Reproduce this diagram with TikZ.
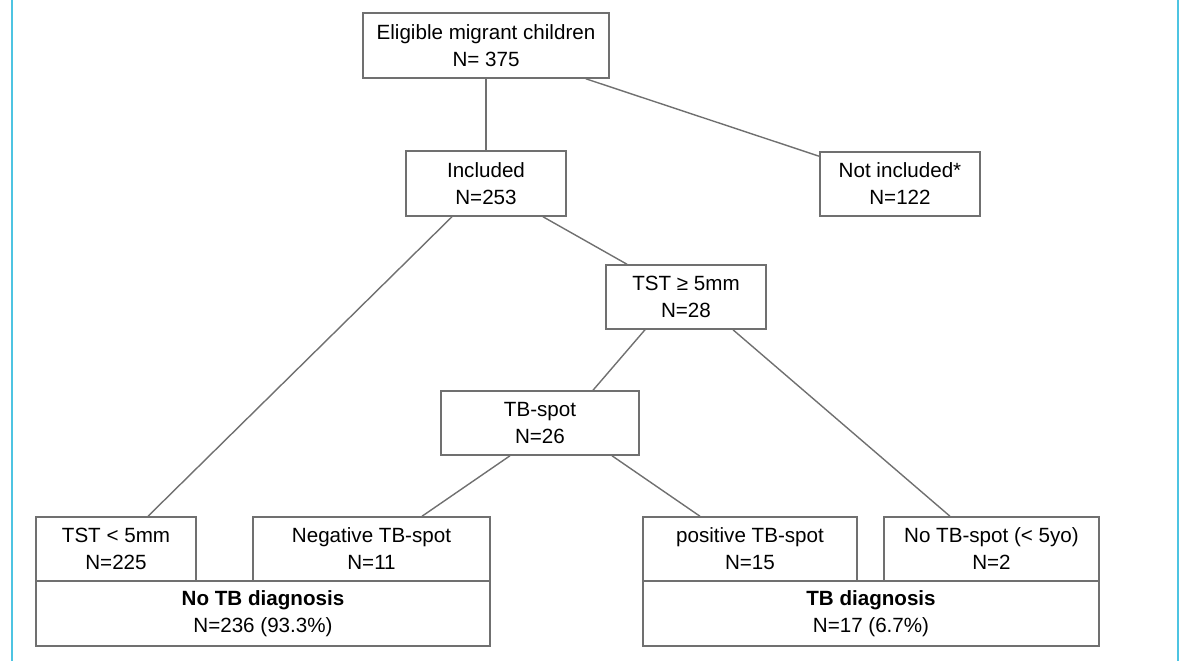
\documentclass[tikz,border=0pt]{standalone}
\usepackage{fontspec}
\setmainfont{Liberation Sans}
\usepackage{tikz}
\usetikzlibrary{calc,positioning}
\definecolor{flowGray}{RGB}{112,112,112}
\definecolor{frameCyan}{RGB}{77,196,226}
\newcommand{\flowfont}{\fontsize{10.3}{13.5}\selectfont}

\begin{document}
\begin{tikzpicture}[x=0.5pt,y=-0.5pt,
  box/.style={draw=flowGray, line width=0.75pt, inner sep=0pt, align=center,
    font=\flowfont, minimum height=32pt},
  link/.style={flowGray, line width=0.7pt}]
\useasboundingbox (0,0) rectangle (1180,661);
\draw[frameCyan, line width=1pt] (12,0)--(12,661);
\draw[frameCyan, line width=1pt] (1178,0)--(1178,661);

% tree boxes
\node[box, minimum width=123pt, minimum height=32.5pt] (elig) at (486,45.5) {Eligible migrant children\\N= 375};
\node[box, minimum width=80pt, minimum height=32.5pt] (incl) at (486,183.5) {Included\\N=253};
\node[box, minimum width=80pt] (notincl) at (900,184) {Not included*\\N=122};
\node[box, minimum width=80pt] (tstpos) at (686,297) {TST ≥ 5mm\\N=28};
\node[box, minimum width=99pt] (tbspot) at (540,423) {TB-spot\\N=26};

% outcome boxes
\node[box, minimum width=80pt] (tstneg) at (116,549) {TST < 5mm\\N=225};
\node[box, minimum width=118.5pt] (spotneg) at (371.5,549) {Negative TB-spot\\N=11};
\node[box, minimum width=107pt] (spotpos) at (750,549) {positive TB-spot\\N=15};
\node[box, minimum width=107.5pt] (nospot) at (991.5,549) {No TB-spot (< 5yo)\\N=2};
\node[box, minimum width=227pt, minimum height=32.5pt] (nodiag) at (263,613.5) {\textbf{No TB diagnosis}\\N=236 (93.3\%)};
\node[box, minimum width=228pt, minimum height=32.5pt] (diag) at (871,613.5) {\textbf{TB diagnosis}\\N=17 (6.7\%)};

% connectors
\draw[link] (elig.south)--(incl.north);
\draw[link] ([xshift=-12pt]elig.south east)--([yshift=-2.5pt]notincl.north west);
\draw[link] ([xshift=-17pt]incl.south)--([xshift=16pt]tstneg.north);
\draw[link] ([xshift=28.5pt]incl.south)--([xshift=-29.5pt]tstpos.north);
\draw[link] ([xshift=-20.5pt]tstpos.south)--([xshift=26.5pt]tbspot.north);
\draw[link] ([xshift=23.5pt]tstpos.south)--([xshift=-20.75pt]nospot.north);
\draw[link] ([xshift=-15pt]tbspot.south)--([xshift=25.25pt]spotneg.north);
\draw[link] ([xshift=36pt]tbspot.south)--([xshift=-25pt]spotpos.north);
\end{tikzpicture}
\end{document}
